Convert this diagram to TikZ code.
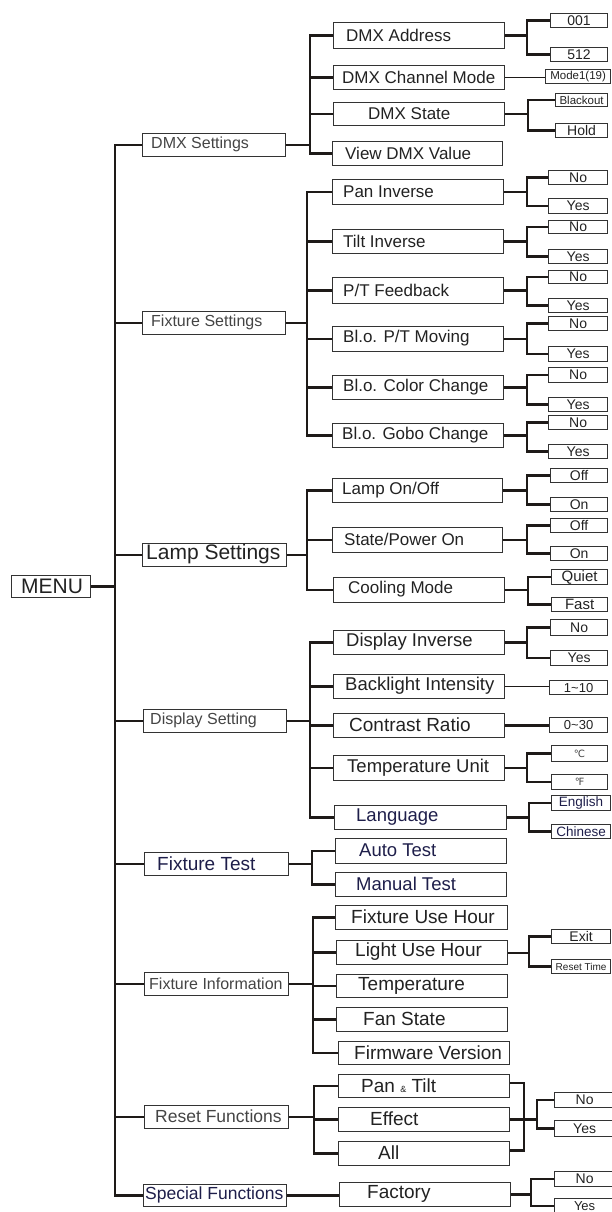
\documentclass[tikz,border=0pt]{standalone}
\usepackage{fontspec}
\setmainfont{Liberation Sans}
\newfontfamily\symfont{DejaVu Sans}
\usetikzlibrary{calc}
\definecolor{ln}{HTML}{1E1A18}
\definecolor{bd}{HTML}{333333}
\definecolor{tx}{HTML}{222222}
\definecolor{tg}{HTML}{444444}
\definecolor{nv}{HTML}{1E1E4A}
\newcommand{\fs}[1]{\fontsize{#1}{#1}\selectfont}
% labelled box: name, x1, y1, x2, y2, text x, text style, text
\newcommand{\bx}[8]{%
  \node[box, anchor=north west, minimum width={(#4-#2)*1pt}, minimum height={(#5-#3)*1pt}] (#1) at (#2,#3) {};
  \node[txt, anchor=west, #7] (#1t) at (#6,{(#3+#5)/2}) {#8};}
% value box with centred text
\newcommand{\vb}[7]{%
  \node[box, anchor=north west, minimum width={(#4-#2)*1pt}, minimum height={(#5-#3)*1pt}, text=tx, #6] (#1) at (#2,#3) {#7};}
% bracket: [parent line style] parent, x, first child, last child
\newcommand{\grp}[5][conn]{%
  \coordinate (gx) at (#3,0);
  \draw[conn] (#4.west) -- (#4.west -| gx) -- (#5.west -| gx) -- (#5.west);
  \draw[#1] (#2.east) -- (#2.east -| gx);}
\newcommand{\hk}[2][conn]{\draw[#1] (#2.west) -- (#2.west -| gx);}
\begin{document}
\begin{tikzpicture}[x=1pt,y=-1pt,
  box/.style={draw=bd, line width=1.2pt, inner sep=0pt, rectangle},
  conn/.style={draw=ln, line width=2.4pt},
  tconn/.style={draw=ln, line width=1.3pt},
  mconn/.style={draw=ln, line width=1.8pt},
  txt/.style={inner sep=0pt, text=tx},
  g16/.style={font=\fs{16}, text=tg},
  s17/.style={font=\fs{17}},
  s18/.style={font=\fs{18.5}},
  s19/.style={font=\fs{19}},
  n18/.style={font=\fs{18.5}, text=nv},
  v14/.style={font=\fs{14}},
  v12/.style={font=\fs{11.5}},
  v15/.style={font=\fs{15}},
  v10/.style={font=\fs{10}},
  n14/.style={font=\fs{13.5}, text=nv}]
\useasboundingbox (0,0) rectangle (611,1212);

% ---- menu and level 1
\bx{menu}{11}{575}{90}{597}{21}{font=\fs{21}}{MENU}
\bx{dmxs}{142}{133}{285}{156}{151}{g16}{DMX Settings}
\bx{fixs}{142}{311}{285}{334}{151}{g16}{Fixture Settings}
\bx{lamps}{142}{543}{286}{566}{146}{font=\fs{21}}{Lamp Settings}
\bx{disps}{143}{709}{286}{732}{150}{g16}{Display Setting}
\bx{fixt}{144}{852}{288}{875}{157}{font=\fs{19}, text=nv}{Fixture Test}
\bx{fixi}{144}{972}{288}{995}{149}{g16}{Fixture Information}
\bx{resf}{144}{1105}{288}{1128}{155}{font=\fs{17.5}, text=tg}{Reset Functions}
\bx{spef}{143}{1184}{286}{1206}{145}{font=\fs{17.5}, text=nv}{Special Functions}

\coordinate (mv) at (115,0);
\draw[conn] (dmxs.west) -- (dmxs.west -| mv) -- (spef.west -| mv) -- (spef.west);
\foreach \n in {fixs,lamps,disps,fixt,fixi,resf} {\draw[conn] (\n.west) -- (\n.west -| mv);}
\draw[conn] (menu.east) -- (menu.east -| mv);

% ---- level 2
\bx{dmxaddr}{333}{22}{504}{48}{346}{s17}{DMX Address}
\bx{dmxmode}{333}{65}{504}{89}{342}{s17}{DMX Channel Mode}
\bx{dmxstate}{333}{102}{504}{125}{368}{s17}{DMX State}
\bx{dmxview}{332}{141}{502}{165}{345}{s17}{View DMX Value}

\bx{pan}{332}{179}{503}{204}{343}{s17}{Pan Inverse}
\bx{tilt}{332}{229}{503}{253}{343}{s17}{Tilt Inverse}
\bx{ptfb}{332}{277}{503}{303}{343}{s17}{P/T Feedback}
\bx{blopt}{332}{326}{503}{351}{343}{s17}{Bl.o. P/T Moving}
\bx{blocol}{332}{375}{503}{399}{343}{s17}{Bl.o. Color Change}
\bx{blogobo}{332}{423}{503}{447}{342}{s17}{Bl.o. Gobo Change}

\bx{lamponoff}{332}{478}{502}{502}{342}{s17}{Lamp On/Off}
\bx{statepwr}{332}{527}{502}{552}{344}{s17}{State/Power On}
\bx{cooling}{333}{577}{504}{602}{348}{s17}{Cooling Mode}

\bx{dispinv}{333}{630}{504}{654}{346}{s18}{Display Inverse}
\bx{backlight}{333}{674}{504}{698}{345}{s18}{Backlight Intensity}
\bx{contrast}{333}{713}{504}{737}{349}{font=\fs{19}}{Contrast Ratio}
\bx{tempunit}{333}{755}{504}{780}{347}{s18}{Temperature Unit}
\bx{language}{334}{805}{506}{829}{356}{n18}{Language}

\bx{autotest}{335}{838}{506}{863}{359}{n18}{Auto Test}
\bx{manualtest}{335}{872}{506}{896}{356}{n18}{Manual Test}

\bx{fuh}{335}{905}{507}{929}{351}{s19}{Fixture Use Hour}
\bx{luh}{336}{940}{507}{964}{355}{s19}{Light Use Hour}
\bx{temp}{336}{974}{507}{997}{358}{s19}{Temperature}
\bx{fan}{336}{1007}{507}{1031}{363}{s19}{Fan State}
\bx{fw}{338}{1041}{509}{1064}{354}{s19}{Firmware Version}

\bx{pantilt}{338}{1074}{509}{1097}{361}{s19}{Pan {\fs{9}\&} Tilt}
\bx{effect}{338}{1107}{509}{1131}{370}{s19}{Effect}
\bx{all}{338}{1141}{509}{1165}{378}{s19}{All}

\bx{factory}{339}{1182}{510}{1206}{367}{s19}{Factory}

\grp{dmxs}{310}{dmxaddr}{dmxview}
\hk{dmxmode}
\hk[tconn]{dmxstate}
\grp{fixs}{307}{pan}{blogobo}
\foreach \n in {tilt,ptfb,blopt,blocol} {\hk{\n}}
\grp{lamps}{307}{lamponoff}{cooling}
\hk{statepwr}
\grp{disps}{310}{dispinv}{language}
\foreach \n in {backlight,contrast,tempunit} {\hk{\n}}
\grp{fixt}{312}{autotest}{manualtest}
\grp{fixi}{313}{fuh}{fw}
\foreach \n in {luh,temp,fan} {\hk{\n}}
\grp{resf}{314}{pantilt}{all}
\hk{effect}
\draw[conn] (spef.east) -- (spef.east -| factory.west);

% ---- level 3 values
\vb{v001}{550}{13}{607}{27}{v14}{001}
\vb{v512}{550}{47}{607}{61}{v14}{512}
\vb{vmode}{545}{69}{610}{83}{v12}{Mode1(19)}
\vb{vblack}{555}{93}{607}{106}{v12}{Blackout}
\vb{vhold}{555}{123}{607}{137}{v14}{Hold}

\vb{pno}{548}{170}{607}{184}{v14}{No}
\vb{pyes}{548}{198}{607}{213}{v14}{Yes}
\vb{tno}{548}{220}{607}{233}{v14}{No}
\vb{tyes}{548}{249}{607}{263}{v14}{Yes}
\vb{fbno}{548}{270}{607}{283}{v14}{No}
\vb{fbyes}{548}{298}{607}{312}{v14}{Yes}
\vb{mvno}{548}{316}{607}{330}{v14}{No}
\vb{mvyes}{548}{346}{607}{361}{v14}{Yes}
\vb{cno}{548}{367}{607}{382}{v14}{No}
\vb{cyes}{548}{397}{607}{411}{v14}{Yes}
\vb{gno}{548}{415}{607}{429}{v14}{No}
\vb{gyes}{548}{444}{607}{458}{v14}{Yes}

\vb{loff}{550}{468}{607}{482}{v14}{Off}
\vb{lon}{550}{497}{607}{511}{v14}{On}
\vb{soff}{550}{518}{607}{532}{v14}{Off}
\vb{son}{550}{546}{607}{560}{v14}{On}
\vb{quiet}{551}{569}{607}{584}{v15}{Quiet}
\vb{fast}{551}{597}{607}{611}{v15}{Fast}

\vb{dno}{550}{619}{607}{635}{v14}{No}
\vb{dyes}{550}{650}{607}{665}{v14}{Yes}
\vb{v110}{549}{680}{607}{694}{font=\fs{13}}{1\textasciitilde 10}
\vb{v030}{549}{717}{607}{732}{font=\fs{13}}{0\textasciitilde 30}
\vb{degc}{551}{745}{607}{761}{font=\symfont\fs{10}, text=tg}{℃}
\vb{degf}{551}{774}{607}{789}{font=\symfont\fs{10}, text=tg}{℉}
\vb{eng}{551}{795}{610}{810}{n14}{English}
\vb{chn}{551}{824}{610}{838}{n14}{Chinese}

\vb{exit}{551}{929}{610}{943}{v14}{Exit}
\vb{rtime}{551}{959}{610}{973}{v10}{Reset Time}

\vb{rno}{554}{1092}{614}{1107}{v14}{No}
\vb{ryes}{554}{1120}{614}{1136}{v14}{Yes}
\vb{fno}{554}{1171}{614}{1186}{v14}{No}
\vb{fyes}{554}{1198}{614}{1213}{font=\fs{13}}{Yes}

\grp{dmxaddr}{527}{v001}{v512}
\draw[mconn] (dmxmode.east) -- (dmxmode.east -| vmode.west);
\grp{dmxstate}{528}{vblack}{vhold}
\grp{pan}{527}{pno}{pyes}
\grp{tilt}{527}{tno}{tyes}
\grp{ptfb}{527}{fbno}{fbyes}
\grp{blopt}{527}{mvno}{mvyes}
\grp{blocol}{527}{cno}{cyes}
\grp{blogobo}{527}{gno}{gyes}
\grp{lamponoff}{527}{loff}{lon}
\grp{statepwr}{527}{soff}{son}
\grp{cooling}{528}{quiet}{fast}
\grp{dispinv}{527}{dno}{dyes}
\draw[tconn] (backlight.east) -- (backlight.east -| v110.west);
\draw[conn] (contrast.east) -- (contrast.east -| v030.west);
\grp[tconn]{tempunit}{527}{degc}{degf}
\grp{language}{529}{eng}{chn}
\grp[mconn]{luh}{529}{exit}{rtime}

% reset: three boxes joined on the right
\coordinate (rx) at (524,0);
\coordinate (ry) at (537,0);
\coordinate (pte) at ($(pantilt.east)+(0,-3)$);
\coordinate (ale) at ($(all.east)+(0,-3)$);
\draw[conn] (pte) -- (pte -| rx) -- (ale -| rx) -- (ale);
\draw[conn] (effect.east) -- (effect.east -| ry);
\draw[conn] (rno.west) -- (rno.west -| ry) -- (ryes.west -| ry) -- (ryes.west);
\grp{factory}{531}{fno}{fyes}
\end{tikzpicture}
\end{document}
